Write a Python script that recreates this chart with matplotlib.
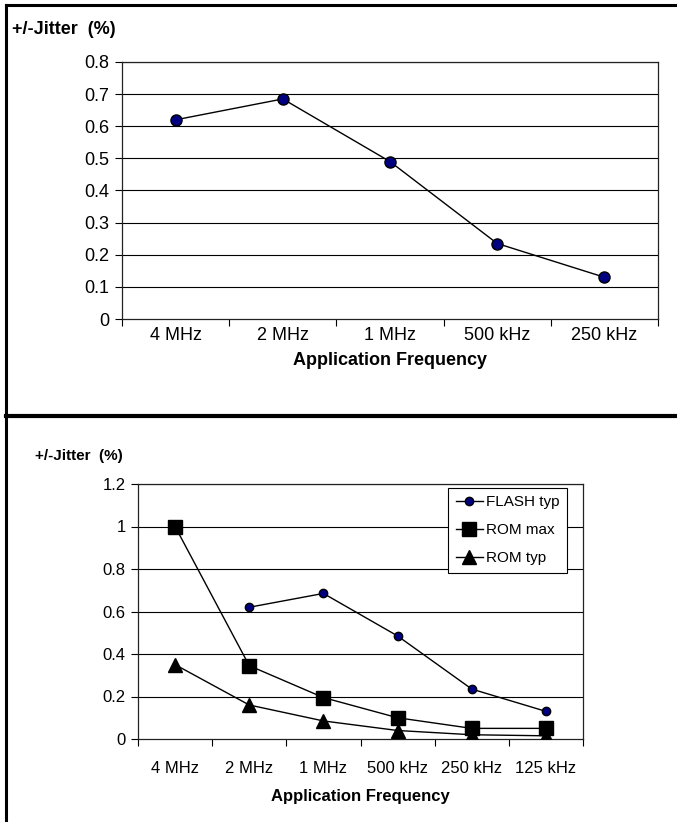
import matplotlib
matplotlib.use("Agg")
import matplotlib.pyplot as plt
from matplotlib.lines import Line2D
import numpy as np

plt.rcParams['font.family'] = ['Liberation Sans', 'DejaVu Sans']

# top chart data
top_freqs = ["4 MHz", "2 MHz", "1 MHz", "500 kHz", "250 kHz"]
top_jitter = [0.62, 0.685, 0.49, 0.235, 0.13]

# bottom chart data
bottom_freqs = ["4 MHz", "2 MHz", "1 MHz", "500 kHz", "250 kHz", "125 kHz"]
flash_typ = [np.nan, 0.62, 0.685, 0.485, 0.235, 0.13]
rom_max = [1.0, 0.345, 0.195, 0.1, 0.05, 0.05]
rom_typ = [0.35, 0.16, 0.085, 0.04, 0.02, 0.015]

W, H = 677, 822
fig = plt.figure(figsize=(W / 100, H / 100), dpi=100)


def px_axes(x0, x1, y0, y1):
    # y0 = top pixel, y1 = bottom pixel
    return fig.add_axes([x0 / W, 1 - y1 / H, (x1 - x0) / W, (y1 - y0) / H])


def style_axes(ax, n, ymax, ystep, fsize, xpad):
    ax.set_xlim(0, n)
    ax.set_ylim(0, ymax)
    yt = np.arange(0, ymax + ystep / 2, ystep)
    ax.set_yticks(yt)
    ax.set_yticklabels(["%g" % v for v in yt], fontsize=fsize)
    ax.set_xticks(np.arange(n + 1))
    ax.set_xticklabels([])
    ax.set_xticks(np.arange(n) + 0.5, minor=True)
    ax.tick_params(axis='x', which='minor', length=0, pad=xpad, labelsize=fsize)
    ax.tick_params(axis='x', which='major', direction='out', length=5, width=0.8)
    ax.tick_params(axis='y', direction='out', length=5, width=0.8, pad=4)
    for y in yt[1:]:
        ax.axhline(y, color='black', lw=0.8, zorder=1)
    for s in ax.spines.values():
        s.set_linewidth(0.9)
        s.set_color('#222222')


# ---- top chart ----
ax1 = px_axes(122, 658, 62, 319)
x1 = np.arange(len(top_freqs)) + 0.5
ax1.plot(x1, top_jitter, color='black', lw=1, marker='o', markersize=8,
         markerfacecolor='#000080', markeredgecolor='black', zorder=3)
style_axes(ax1, len(top_freqs), 0.8, 0.1, 13, 5.5)
ax1.set_xticklabels(top_freqs, minor=True)
ax1.set_xlabel("Application Frequency", fontsize=13, fontweight='bold', labelpad=6)
fig.text(12 / W, 1 - 30 / H, "+/-Jitter  (%)", fontsize=13, fontweight='bold', va='center')

# ---- bottom chart ----
ax2 = px_axes(138, 583, 484, 739)
x2 = np.arange(len(bottom_freqs)) + 0.5
ax2.plot(x2, flash_typ, color='black', lw=1, marker='o', markersize=6,
         markerfacecolor='#000080', markeredgecolor='black', label='FLASH typ', zorder=3)
ax2.plot(x2, rom_max, color='black', lw=1, marker='s', markersize=10,
         markerfacecolor='black', label='ROM max', zorder=3)
ax2.plot(x2, rom_typ, color='black', lw=1, marker='^', markersize=10,
         markerfacecolor='black', label='ROM typ', zorder=3)
style_axes(ax2, len(bottom_freqs), 1.2, 0.2, 12, 16)
ax2.set_xticklabels(bottom_freqs, minor=True)
ax2.set_xlabel("Application Frequency", fontsize=12, fontweight='bold', labelpad=9)
leg = ax2.legend(loc='upper right', bbox_to_anchor=(0.965, 0.985), fontsize=11,
                 fancybox=False, edgecolor='black', framealpha=1, handlelength=1.8,
                 handletextpad=0.2, borderpad=0.5, labelspacing=0.9, borderaxespad=0)
leg.get_frame().set_linewidth(0.8)
fig.text(35 / W, 1 - 456 / H, "+/-Jitter  (%)", fontsize=11, fontweight='bold', va='center')

# ---- frame lines ----
fig.add_artist(Line2D([6 / W, 1], [1 - 5 / H, 1 - 5 / H], transform=fig.transFigure,
                      color='black', lw=2.2))
fig.add_artist(Line2D([6 / W, 6 / W], [0, 1 - 5 / H], transform=fig.transFigure,
                      color='black', lw=2.2))
fig.add_artist(Line2D([6 / W, 1], [1 - 416 / H, 1 - 416 / H], transform=fig.transFigure,
                      color='black', lw=3))

fig.savefig("out.png", dpi=100)
